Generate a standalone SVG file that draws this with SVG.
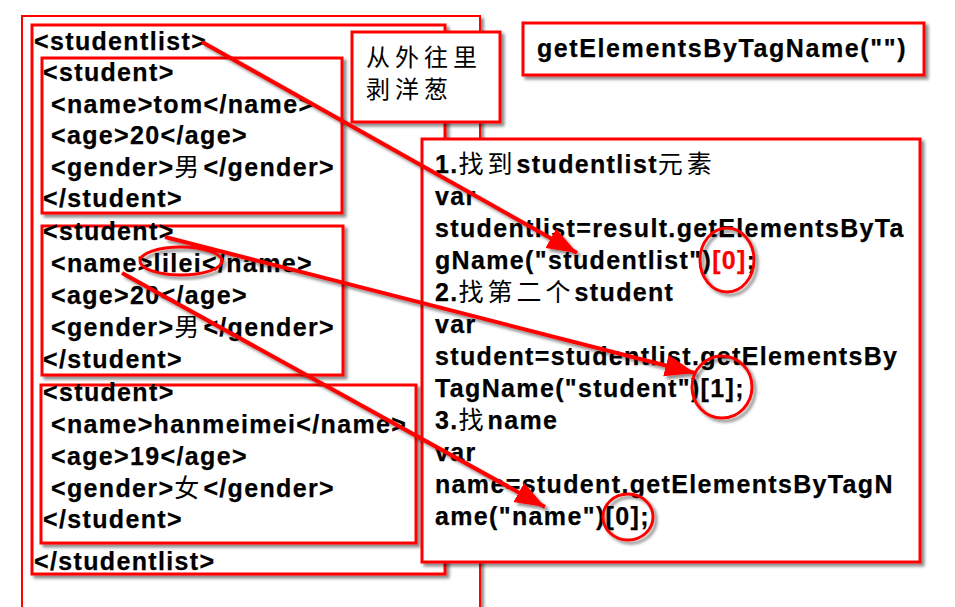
<svg xmlns="http://www.w3.org/2000/svg" width="955" height="607" viewBox="0 0 955 607">
<style>
.box{fill:#fff;stroke:#f00;stroke-width:3;filter:url(#sh)}
.thin{fill:#fff;stroke:#f00;stroke-width:2;filter:url(#sh)}
.t{font-family:"Liberation Sans",Arial,"Noto Sans CJK SC",sans-serif;font-weight:700;font-size:25px;letter-spacing:1.35px;fill:#000;stroke:#000;stroke-width:0.25px}
.cjk{font-family:"Noto Sans CJK SC","Noto Sans CJK TC",sans-serif;font-weight:400;letter-spacing:4px;stroke-width:0}
.note{font-family:"Noto Sans CJK SC",sans-serif;font-weight:400;font-size:24px;letter-spacing:5px;fill:#000}
.arr{stroke:#f00;stroke-width:4;fill:none;marker-end:url(#ah);filter:url(#sh)}
.ell{stroke:#f00;stroke-width:3;fill:none;filter:url(#sh)}
.red{fill:#f00;stroke:#f00}
</style>
<defs>
<filter id="sh" x="-10%" y="-10%" width="130%" height="130%">
<feDropShadow dx="3" dy="3" stdDeviation="1.8" flood-color="#000" flood-opacity="0.45"/>
</filter>
<marker id="ah" markerUnits="userSpaceOnUse" markerWidth="32" markerHeight="24" refX="30" refY="11" orient="auto">
<path d="M0,0 L30,11 L0,22 Z" fill="#f00"/>
</marker>
</defs>
<rect width="955" height="607" fill="#fff"/>
<g id="outer"><rect class="thin" x="22" y="16" width="458" height="640"/></g>
<g id="studentlist">
<rect class="box" x="32" y="25" width="413" height="549"/>
<text class="t" x="34" y="50">&lt;studentlist&gt;</text>
<text class="t" x="34" y="570">&lt;/studentlist&gt;</text>
</g>
<g id="student1">
<rect class="box" x="42" y="58" width="300" height="155"/>
<text class="t" x="43" y="81">&lt;student&gt;</text>
<text class="t" x="51" y="113">&lt;name&gt;tom&lt;/name&gt;</text>
<text class="t" x="51" y="144">&lt;age&gt;20&lt;/age&gt;</text>
<text class="t" x="51" y="176">&lt;gender&gt;<tspan class="cjk">男</tspan>&lt;/gender&gt;</text>
<text class="t" x="43" y="207">&lt;/student&gt;</text>
</g>
<g id="student2">
<rect class="box" x="42" y="226" width="301" height="149"/>
<text class="t" x="43" y="240">&lt;student&gt;</text>
<text class="t" x="51" y="272">&lt;name&gt;lilei&lt;/name&gt;</text>
<text class="t" x="51" y="304">&lt;age&gt;20&lt;/age&gt;</text>
<text class="t" x="51" y="336">&lt;gender&gt;<tspan class="cjk">男</tspan>&lt;/gender&gt;</text>
<text class="t" x="43" y="368">&lt;/student&gt;</text>
</g>
<g id="student3">
<rect class="box" x="41" y="385" width="375" height="158"/>
<text class="t" x="43" y="401">&lt;student&gt;</text>
<text class="t" x="51" y="433">&lt;name&gt;hanmeimei&lt;/name&gt;</text>
<text class="t" x="51" y="465">&lt;age&gt;19&lt;/age&gt;</text>
<text class="t" x="51" y="497">&lt;gender&gt;<tspan class="cjk">女</tspan>&lt;/gender&gt;</text>
<text class="t" x="43" y="528">&lt;/student&gt;</text>
</g>
<g id="note">
<rect class="box" x="352" y="32" width="148" height="90"/>
<text class="note" x="366" y="66">从外往里</text>
<text class="note" x="366" y="98">剥洋葱</text>
</g>
<g id="method">
<rect class="box" x="523" y="23" width="401" height="52"/>
<text class="t" x="537" y="57" style="letter-spacing:1.6px">getElementsByTagName("")</text>
</g>
<g id="code">
<rect class="box" x="422" y="139" width="498" height="423"/>
<text class="t" x="435" y="173">1.<tspan class="cjk">找到</tspan>studentlist<tspan class="cjk">元素</tspan></text>
<text class="t" x="435" y="205">var</text>
<text class="t" x="435" y="237">studentlist=result.getElementsByTa</text>
<text class="t" x="435" y="269">gName("studentlist")<tspan class="red">[0]</tspan>;</text>
<text class="t" x="435" y="301">2.<tspan class="cjk">找第二个</tspan>student</text>
<text class="t" x="435" y="333">var</text>
<text class="t" x="435" y="365">student=studentlist.getElementsBy</text>
<text class="t" x="435" y="397">TagName("student")[1];</text>
<text class="t" x="435" y="429">3.<tspan class="cjk">找</tspan>name</text>
<text class="t" x="435" y="461">var</text>
<text class="t" x="435" y="493">name=student.getElementsByTagN</text>
<text class="t" x="435" y="525">ame("name")[0];</text>
</g>
<g id="connectors">
<line class="arr" x1="202" y1="42" x2="577" y2="253"/>
<line class="arr" x1="165" y1="237" x2="695" y2="373"/>
<line class="arr" x1="122" y1="273" x2="545" y2="507"/>
<ellipse class="ell" cx="181" cy="261" rx="41" ry="14"/>
<ellipse class="ell" cx="727" cy="260" rx="27" ry="32"/>
<ellipse class="ell" cx="722" cy="387" rx="30" ry="31"/>
<ellipse class="ell" cx="628" cy="517" rx="25" ry="23"/>
</g>
</svg>
